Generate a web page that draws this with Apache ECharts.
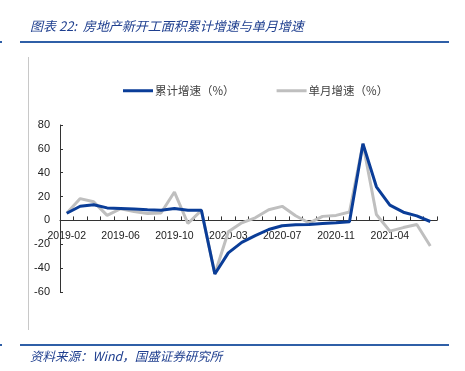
<!DOCTYPE html>
<html><head><meta charset="utf-8">
<script src="https://cdn.jsdelivr.net/npm/echarts@6/dist/echarts.min.js"></script>
<style>html,body{margin:0;padding:0;background:#fff}#c{width:465px;height:371px}</style>
</head><body><div id="c"></div>
<script>
const categories = ['2019-02','2019-03','2019-04','2019-05','2019-06','2019-07','2019-08','2019-09','2019-10','2019-11','2019-12',
  '2020-02','2020-03','2020-04','2020-05','2020-06','2020-07','2020-08','2020-09','2020-10','2020-11','2020-12',
  '2021-02','2021-03','2021-04','2021-05','2021-06','2021-07'];
const cumulative = [6.0,11.9,13.1,10.5,10.1,9.5,8.9,8.6,10.0,8.6,8.5,
  -44.9,-27.2,-18.4,-12.8,-7.6,-4.5,-3.6,-3.4,-2.6,-2.0,-1.2,
  64.3,28.2,12.8,6.9,3.8,-0.9];
const monthly = [6.0,18.3,15.6,4.2,9.8,7.4,5.8,6.2,23.8,-2.6,8.4,
  -44.9,-9.5,-2.0,2.2,9.0,11.8,3.9,-2.2,3.4,4.2,7.0,
  64.3,5.0,-9.0,-6.0,-3.4,-21.5];
const yTicks = {min:-60, max:80, interval:20};
const seriesNames = ['累计增速（%）','单月增速（%）'];
const titleText = '图表 22:  房地产新开工面积累计增速与单月增速';
const sourceText = '资料来源：Wind，国盛证券研究所';

const chart = echarts.init(document.getElementById('c'));
const navy = '#2f5fa7';
const gridTop = 125, gridBottom = 79, H = 371;
const plotH = H - gridTop - gridBottom;
const zeroOffset = -plotH * (0 - yTicks.min) / (yTicks.max - yTicks.min);
chart.setOption({
  animation:false,
  graphic:[
    {type:'text', left:30, top:20, style:{text:titleText, font:'italic 13px "Noto Sans CJK SC"', fill:'#1f3f8f'}},
    {type:'rect', shape:{x:20,y:41,width:429,height:2}, style:{fill:navy}},
    {type:'rect', shape:{x:0,y:41,width:2,height:2}, style:{fill:navy}},
    {type:'rect', shape:{x:28,y:57,width:1,height:273}, style:{fill:'#c8c8c8'}},
    {type:'rect', shape:{x:20,y:344,width:429,height:2}, style:{fill:navy}},
    {type:'rect', shape:{x:0,y:344,width:2,height:2}, style:{fill:navy}},
    {type:'text', left:30, top:350, style:{text:sourceText, font:'italic 12.5px "Noto Sans CJK SC"', fill:'#1f3f8f'}}
  ],
  legend:{
    left:118, top:80, itemGap:42, itemWidth:30, itemHeight:3, icon:'rect',
    textStyle:{fontFamily:'"Noto Sans CJK SC"', fontSize:11.5, color:'#404040', padding:[0,0,0,-3]},
    data:seriesNames
  },
  grid:{left:60, right:28, top:gridTop, bottom:gridBottom, containLabel:false},
  xAxis:{
    type:'category', data:categories, boundaryGap:true, offset:zeroOffset,
    axisLine:{onZero:false, lineStyle:{color:'#333', width:1}},
    axisTick:{show:true, inside:true, length:4, interval:0, lineStyle:{color:'#333'}},
    axisLabel:{interval:3, margin:10, fontSize:10.5, color:'#222', fontFamily:'"Liberation Sans", Arial'}
  },
  yAxis:{
    type:'value', min:yTicks.min, max:yTicks.max, interval:yTicks.interval,
    splitLine:{show:false},
    axisLine:{show:true, lineStyle:{color:'#333', width:1}},
    axisTick:{show:true, inside:true, length:3, lineStyle:{color:'#333'}},
    axisLabel:{margin:10, fontSize:11, color:'#222', fontFamily:'"Liberation Sans", Arial'}
  },
  series:[
    {name:seriesNames[1], type:'line', data:monthly, symbol:'none', z:2,
      lineStyle:{color:'#bfbfbf', width:3}, itemStyle:{color:'#bfbfbf'}},
    {name:seriesNames[0], type:'line', data:cumulative, symbol:'none', z:3,
      lineStyle:{color:'#0a3d98', width:3}, itemStyle:{color:'#0a3d98'}}
  ]
});
</script></body></html>
